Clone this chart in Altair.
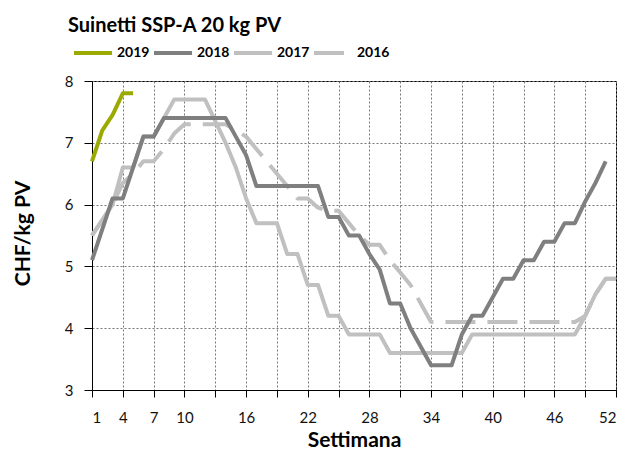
import altair as alt
import pandas as pd

weeks = list(range(1, 53))
years = ["2019", "2018", "2017", "2016"]
colors = ["#9aaa00", "#7f7f7f", "#c0c0c0", "#c0c0c0"]
dashes = [[1, 0], [1, 0], [1, 0], [30, 12]]

v2019 = [6.7, 7.2, 7.45, 7.8, 7.8]

v2018 = [5.1, 5.6, 6.1, 6.1, 6.6, 7.1, 7.1, 7.4, 7.4, 7.4,
         7.4, 7.4, 7.4, 7.4, 7.1, 6.8, 6.3, 6.3, 6.3, 6.3,
         6.3, 6.3, 6.3, 5.8, 5.8, 5.5, 5.5, 5.2, 4.95, 4.4,
         4.4, 4.0, 3.7, 3.4, 3.4, 3.4, 3.9, 4.2, 4.2, 4.5,
         4.8, 4.8, 5.1, 5.1, 5.4, 5.4, 5.7, 5.7, 6.05, 6.35,
         6.7]

v2017 = [5.5, 5.75, 6.0, 6.6, 6.6, 7.1, 7.1, 7.4, 7.7, 7.7,
         7.7, 7.7, 7.35, 7.0, 6.6, 6.1, 5.7, 5.7, 5.7, 5.2,
         5.2, 4.7, 4.7, 4.2, 4.2, 3.9, 3.9, 3.9, 3.9, 3.6,
         3.6, 3.6, 3.6, 3.6, 3.6, 3.6, 3.6, 3.9, 3.9, 3.9,
         3.9, 3.9, 3.9, 3.9, 3.9, 3.9, 3.9, 3.9, 4.2, 4.55,
         4.8, 4.8]

v2016 = [5.5, 5.75, 6.0, 6.35, 6.5, 6.7, 6.7, 6.9, 7.15, 7.3,
         7.3, 7.3, 7.3, 7.3, 7.2, 7.1, 6.9, 6.7, 6.5, 6.3,
         6.1, 6.1, 5.95, 5.9, 5.9, 5.7, 5.5, 5.35, 5.35, 5.1,
         4.9, 4.7, 4.4, 4.1, 4.1, 4.1, 4.1, 4.1, 4.1, 4.1,
         4.1, 4.1, 4.1, 4.1, 4.1, 4.1, 4.1, 4.1, 4.2, 4.55,
         4.8, 4.8]

x_ticks = list(range(1, 53, 3))
x_hidden = [13, 19, 25, 31, 37, 43, 49]
y_ticks = [3, 4, 5, 6, 7, 8]

rows = []
for year, vals in [("2016", v2016), ("2017", v2017), ("2018", v2018), ("2019", v2019)]:
    for w, v in zip(weeks, vals):
        rows.append({"week": w, "price": v, "year": year})
df = pd.DataFrame(rows)

FONT = "Lato"

legend = alt.Legend(
    title=None, orient="none", direction="horizontal",
    legendX=-20, legendY=-49,
    symbolType="stroke", symbolSize=1444, symbolStrokeWidth=4,
    labelFont=FONT, labelFontSize=14, labelFontWeight="bold", labelColor="#000",
    labelOffset=3, columnPadding=-4, padding=0,
)

chart = alt.Chart(
    df,
    title=alt.TitleParams(
        "Suinetti SSP-A 20 kg PV", anchor="start", frame="group",
        font=FONT, fontSize=20, fontWeight="bold", color="#000",
        dx=-24, offset=0, dy=4,
    ),
).mark_line(strokeWidth=4, strokeJoin="round", strokeCap="butt").encode(
    x=alt.X("week:Q", scale=alt.Scale(domain=[1, 52], nice=False, zero=False),
            axis=alt.Axis(values=x_ticks, title="Settimana",
                          labelExpr="indexof(" + str(x_hidden) + ", datum.value) >= 0 ? '' : datum.label",
                          labelOverlap=False, tickSize=7, labelPadding=13,
                          titleFontSize=21, titleY=60, titleBaseline="bottom")),
    y=alt.Y("price:Q", scale=alt.Scale(domain=[3, 8], nice=False, zero=False),
            axis=alt.Axis(values=y_ticks, title="CHF/kg PV", tickSize=8, labelPadding=11,
                          titleFontSize=21, titleX=-63, titleY=152, titleBaseline="alphabetic")),
    color=alt.Color("year:N", scale=alt.Scale(domain=years, range=colors), legend=legend),
    strokeDash=alt.StrokeDash("year:N", scale=alt.Scale(domain=years, range=dashes), legend=legend),
).properties(
    width=524, height=309,
    autosize=alt.AutoSizeParams(type="none"),
    padding={"left": 84, "top": 73, "right": 14, "bottom": 59},
).configure_view(
    stroke="#000", strokeWidth=1
).configure_axis(
    domainColor="#000", domainWidth=1, tickColor="#000", tickWidth=1,
    labelFont=FONT, labelFontSize=15, labelColor="#111",
    titleFont=FONT, titleFontWeight="bold", titleColor="#000",
    grid=True, gridColor="#777", gridDash=[2, 2], gridWidth=1,
)

chart.save("out.html", embed_options={"renderer": "svg", "actions": False})
